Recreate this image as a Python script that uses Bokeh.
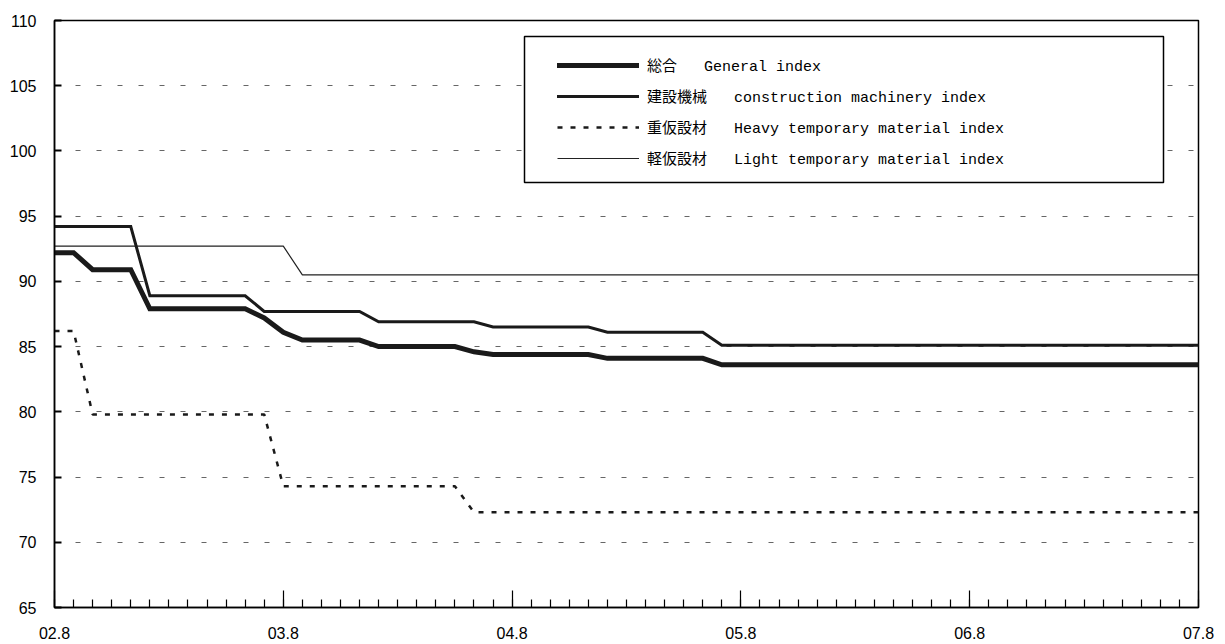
from bokeh.plotting import figure
from bokeh.models import FixedTicker, Legend, LegendItem, BoxAnnotation, Range1d
from bokeh.embed import file_html
from bokeh.resources import INLINE

# month index: 0 = 02.8 ... 60 = 07.8
months = list(range(61))
tick_months = [0, 12, 24, 36, 48, 60]
tick_labels = ["02.8", "03.8", "04.8", "05.8", "06.8", "07.8"]
y_ticks = [65, 70, 75, 80, 85, 90, 95, 100, 105, 110]

general = [92.2, 92.2, 90.9, 90.9, 90.9, 87.9, 87.9, 87.9, 87.9, 87.9,
           87.9, 87.2, 86.1, 85.5, 85.5, 85.5, 85.5, 85.0, 85.0, 85.0,
           85.0, 85.0, 84.6, 84.4, 84.4, 84.4, 84.4, 84.4, 84.4, 84.1,
           84.1, 84.1, 84.1, 84.1, 84.1, 83.6, 83.6, 83.6, 83.6, 83.6,
           83.6, 83.6, 83.6, 83.6, 83.6, 83.6, 83.6, 83.6, 83.6, 83.6,
           83.6, 83.6, 83.6, 83.6, 83.6, 83.6, 83.6, 83.6, 83.6, 83.6,
           83.6]
construction = [94.2, 94.2, 94.2, 94.2, 94.2, 88.9, 88.9, 88.9, 88.9, 88.9,
                88.9, 87.7, 87.7, 87.7, 87.7, 87.7, 87.7, 86.9, 86.9, 86.9,
                86.9, 86.9, 86.9, 86.5, 86.5, 86.5, 86.5, 86.5, 86.5, 86.1,
                86.1, 86.1, 86.1, 86.1, 86.1, 85.1, 85.1, 85.1, 85.1, 85.1,
                85.1, 85.1, 85.1, 85.1, 85.1, 85.1, 85.1, 85.1, 85.1, 85.1,
                85.1, 85.1, 85.1, 85.1, 85.1, 85.1, 85.1, 85.1, 85.1, 85.1,
                85.1]
heavy = [86.2, 86.2, 79.8, 79.8, 79.8, 79.8, 79.8, 79.8, 79.8, 79.8,
         79.8, 79.8, 74.3, 74.3, 74.3, 74.3, 74.3, 74.3, 74.3, 74.3,
         74.3, 74.3, 72.3, 72.3, 72.3, 72.3, 72.3, 72.3, 72.3, 72.3,
         72.3, 72.3, 72.3, 72.3, 72.3, 72.3, 72.3, 72.3, 72.3, 72.3,
         72.3, 72.3, 72.3, 72.3, 72.3, 72.3, 72.3, 72.3, 72.3, 72.3,
         72.3, 72.3, 72.3, 72.3, 72.3, 72.3, 72.3, 72.3, 72.3, 72.3,
         72.3]
light = [92.7, 92.7, 92.7, 92.7, 92.7, 92.7, 92.7, 92.7, 92.7, 92.7,
         92.7, 92.7, 92.7, 90.5, 90.5, 90.5, 90.5, 90.5, 90.5, 90.5,
         90.5, 90.5, 90.5, 90.5, 90.5, 90.5, 90.5, 90.5, 90.5, 90.5,
         90.5, 90.5, 90.5, 90.5, 90.5, 90.5, 90.5, 90.5, 90.5, 90.5,
         90.5, 90.5, 90.5, 90.5, 90.5, 90.5, 90.5, 90.5, 90.5, 90.5,
         90.5, 90.5, 90.5, 90.5, 90.5, 90.5, 90.5, 90.5, 90.5, 90.5,
         90.5]

series_names = [
    "総合\u00a0\u00a0\u00a0General index",
    "建設機械\u00a0\u00a0\u00a0construction machinery index",
    "重仮設材\u00a0\u00a0\u00a0Heavy temporary material index",
    "軽仮設材\u00a0\u00a0\u00a0Light temporary material index",
]

FRAME_H = 587  # 644 - 20 - 37

p = figure(width=1225, height=644, output_backend="svg", toolbar_location=None,
           x_range=Range1d(0, 60), y_range=Range1d(65, 110),
           min_border_left=54, min_border_right=27, min_border_top=20,
           min_border_bottom=37, background_fill_color="white",
           border_fill_color="white")

p.outline_line_color = "black"
p.outline_line_width = 1.5

# grid
p.xgrid.visible = False
p.ygrid.ticker = FixedTicker(ticks=y_ticks)
p.ygrid.grid_line_color = "#666666"
p.ygrid.grid_line_width = 1
p.ygrid.grid_line_dash = "5 16"

# x axis
xa = p.xaxis[0]
xa.ticker = FixedTicker(ticks=tick_months, minor_ticks=months)
xa.major_label_overrides = {m: l for m, l in zip(tick_months, tick_labels)}
xa.major_tick_in = 17
xa.major_tick_out = 0
xa.minor_tick_in = 8
xa.minor_tick_out = 0
xa.axis_line_width = 1.5
xa.axis_line_color = "black"
xa.major_tick_line_width = 1.2
xa.minor_tick_line_width = 1.2
xa.major_tick_line_color = "black"
xa.minor_tick_line_color = "black"
xa.major_label_text_font = "Liberation Sans"
xa.major_label_text_font_size = "16px"
xa.major_label_text_color = "black"
xa.major_label_standoff = 19

# y axis
ya = p.yaxis[0]
ya.ticker = FixedTicker(ticks=y_ticks, minor_ticks=[])
ya.major_tick_in = 7
ya.major_tick_out = 0
ya.major_tick_line_width = 2
ya.major_tick_line_color = "black"
ya.axis_line_width = 1.5
ya.axis_line_color = "black"
ya.major_label_text_font = "Liberation Sans"
ya.major_label_text_font_size = "16px"
ya.major_label_text_color = "black"
ya.major_label_standoff = 18

r_light = p.line(months, light, line_width=1.2, line_color="#222222")
r_heavy = p.line(months, heavy, line_width=2.5, line_color="#1a1a1a",
                 line_dash="5 8")
r_con = p.line(months, construction, line_width=3, line_color="#1a1a1a",
               line_join="miter", line_cap="round")
r_gen = p.line(months, general, line_width=5, line_color="#1a1a1a",
               line_join="miter", line_cap="round")

# legend frame (screen units: x from frame left, y from frame bottom)
box = BoxAnnotation(left=470, right=1109, top=FRAME_H - 16, bottom=FRAME_H - 162,
                    left_units="screen", right_units="screen",
                    top_units="screen", bottom_units="screen",
                    fill_color="white", fill_alpha=1.0,
                    line_color="black", line_alpha=1.0, line_width=1.5)
p.add_layout(box)

legend = Legend(items=[
    LegendItem(label=series_names[0], renderers=[r_gen]),
    LegendItem(label=series_names[1], renderers=[r_con]),
    LegendItem(label=series_names[2], renderers=[r_heavy]),
    LegendItem(label=series_names[3], renderers=[r_light]),
], location=(503, FRAME_H - 149), glyph_width=82, glyph_height=22, label_height=22,
    spacing=9, padding=0, margin=0, label_standoff=8,
    label_text_font="Liberation Mono, Noto Sans CJK JP",
    label_text_font_size="15px", label_text_color="black",
    border_line_alpha=0, background_fill_alpha=0)
p.add_layout(legend)

open("out.html", "w").write(file_html(p, INLINE))
